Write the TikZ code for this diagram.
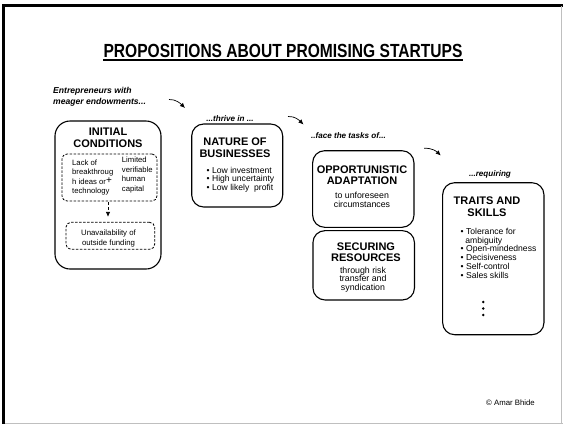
\documentclass[tikz,border=0pt]{standalone}
\usepackage{fontspec}
\setmainfont{Liberation Sans}
\newfontfamily\titlefont[FakeStretch=0.82]{Liberation Sans}
\usetikzlibrary{arrows.meta,calc}
\tikzset{
  box/.style={draw=black, line width=1.1pt, rounded corners=12pt, inner sep=0pt},
  dbox/.style={draw=black, line width=0.8pt, dash pattern=on 2.5pt off 1.5pt, rounded corners=5pt, inner sep=0pt},
  hd/.style={font=\fontsize{11}{12}\selectfont\bfseries, inner sep=0pt, anchor=base},
  lead/.style={font=\fontsize{8.1}{10}\selectfont\bfseries\itshape, inner sep=0pt, anchor=base},
  blt/.style={font=\fontsize{8.6}{9}\selectfont, inner sep=0pt, anchor=base west},
  sm/.style={font=\fontsize{7.7}{9}\selectfont, inner sep=0pt, anchor=base west},
  smc/.style={font=\fontsize{7.8}{9}\selectfont, inner sep=0pt, anchor=base},
  sub/.style={font=\fontsize{8.8}{9}\selectfont, inner sep=0pt, anchor=base},
  arr/.style={-{Latex[length=5pt,width=4.5pt]}, line width=0.7pt},
}
\begin{document}
\begin{tikzpicture}[x=1pt,y=-1pt]
\useasboundingbox (0,0) rectangle (563,424);
% frame
\draw[black, line width=3pt] (3.5,4) -- (3.5,424);
\draw[black, line width=2.2pt] (2,5.5) -- (563,5.5);
\draw[black!25, line width=1pt] (561.8,6) -- (561.8,424);
\draw[black!25, line width=1pt] (5,423.3) -- (563,423.3);

% title
\node[font=\titlefont\fontsize{19}{21}\selectfont\bfseries, inner sep=0pt, anchor=base] (title) at (283,57) {PROPOSITIONS ABOUT PROMISING STARTUPS};
\draw[line width=1.2pt] ($(title.base west)+(0,3)$) coordinate (ulA) -- ($(title.base east)+(0,3)$) coordinate (ulB);

% lead texts
\node[lead, font=\fontsize{8.6}{10}\selectfont\bfseries\itshape, anchor=base west] (e1) at (53,93) {Entrepreneurs with};
\node[lead, font=\fontsize{8.6}{10}\selectfont\bfseries\itshape, anchor=base west] (e2) at (53,104) {meager endowments...};
\node[lead] (thr) at (230,121) {...thrive in ...};
\node[lead] (face) at (348.5,138) {..face the tasks of...};
\node[lead] (req) at (490,176.3) {...requiring};

% arrows
\coordinate (a1s) at (169,99.5); \coordinate (a1e) at (185,108);
\coordinate (a2s) at (288,116.5); \coordinate (a2e) at (303.5,124.5);
\coordinate (a3s) at (424,148.3); \coordinate (a3e) at (440.7,155.5);
\draw[arr] (a1s) .. controls +(7,-0.5) and +(-4,-4) .. (a1e);
\draw[arr] (a2s) .. controls +(7,-0.5) and +(-4,-4) .. (a2e);
\draw[arr] (a3s) .. controls +(8,-0.5) and +(-4,-4) .. (a3e);

% initial conditions
\node[box, rounded corners=15pt, minimum width=106pt, minimum height=148pt] (init) at (108,195) {};
\node[hd] (i1) at (108,135.5) {INITIAL};
\node[hd] (i2) at (108,147) {CONDITIONS};
\node[dbox, minimum width=95pt, minimum height=47pt] (d1) at (109.5,177.5) {};
\node[sm] (l1) at (72,165) {Lack of};
\node[sm] (l2) at (72,174.5) {breakthroug};
\node[sm] (l3) at (72,184) {h ideas or};
\node[sm] (l4) at (72,193.5) {technology};
\node[sm] (r1) at (121.7,162.7) {Limited};
\node[sm] (r2) at (121.7,172.2) {verifiable};
\node[sm] (r3) at (121.7,181.7) {human};
\node[sm] (r4) at (121.7,191.2) {capital};
\node[font=\fontsize{10}{10}\selectfont, inner sep=0pt] (plus) at (109,180.5) {+};
\node[dbox, minimum width=88.7pt, minimum height=27pt] (d2) at (110.3,235.8) {};
\node[smc] (u1) at (108.5,235.5) {Unavailability of};
\node[smc] (u2) at (108.5,245) {outside funding};
\draw[arr, dash pattern=on 3pt off 2pt, line width=0.8pt] (plus.center |- d1.south) ++(-1,1) coordinate (dA) -- ($(plus.center |- d2.north)+(-1,-5)$) coordinate (dB);

% nature of businesses
\node[box, minimum width=91pt, minimum height=83pt] (nat) at (237.2,165.5) {};
\node[hd] (n1) at (235,145.5) {NATURE OF};
\node[hd] (n2) at (235,157) {BUSINESSES};
\node[blt] (nb1) at (206.5,173.5) {\textbullet\ Low investment};
\node[blt] (nb2) at (206.5,181.8) {\textbullet\ High uncertainty};
\node[blt] (nb3) at (206.5,190.1) {\textbullet\ Low likely\ \ profit};

% opportunistic adaptation
\node[box, minimum width=101.3pt, minimum height=76.6pt] (opp) at (363.3,189) {};
\node[hd] (o1) at (362,173.3) {OPPORTUNISTIC};
\node[hd] (o2) at (362,184.5) {ADAPTATION};
\node[sub] (o3) at (362,198.5) {to unforeseen};
\node[sub] (o4) at (362,207) {circumstances};

% securing resources
\node[box, minimum width=101.5pt, minimum height=69.3pt] (sec) at (363.7,265.3) {};
\node[hd] (s1) at (366,250.2) {SECURING};
\node[hd] (s2) at (366,261.8) {RESOURCES};
\node[sub] (s3) at (363,273) {through risk};
\node[sub] (s4) at (363,281.5) {transfer and};
\node[sub] (s5) at (363,290) {syndication};

% traits and skills
\node[box, minimum width=101.3pt, minimum height=152pt] (tr) at (493.3,258.7) {};
\node[hd] (t1) at (487,204.5) {TRAITS AND};
\node[hd] (t2) at (487,216.5) {SKILLS};
\node[blt] (tb1) at (460.5,234.5) {\textbullet\ Tolerance for};
\node[blt] (tb1b) at (465.2,243.2) {ambiguity};
\node[blt] (tb2) at (460.5,251.9) {\textbullet\ Open-mindedness};
\node[blt] (tb3) at (460.5,260.6) {\textbullet\ Decisiveness};
\node[blt] (tb4) at (460.5,269.3) {\textbullet\ Self-control};
\node[blt] (tb5) at (460.5,278) {\textbullet\ Sales skills};
\fill (483.3,302) circle (1.4pt) (483.3,308.5) circle (1.4pt) (483.3,315) circle (1.4pt);

% copyright
\node[font=\fontsize{7.8}{9}\selectfont, inner sep=0pt, anchor=base] (cp) at (510.5,405.3) {\textcopyright\ Amar Bhide};
\end{tikzpicture}
\end{document}
